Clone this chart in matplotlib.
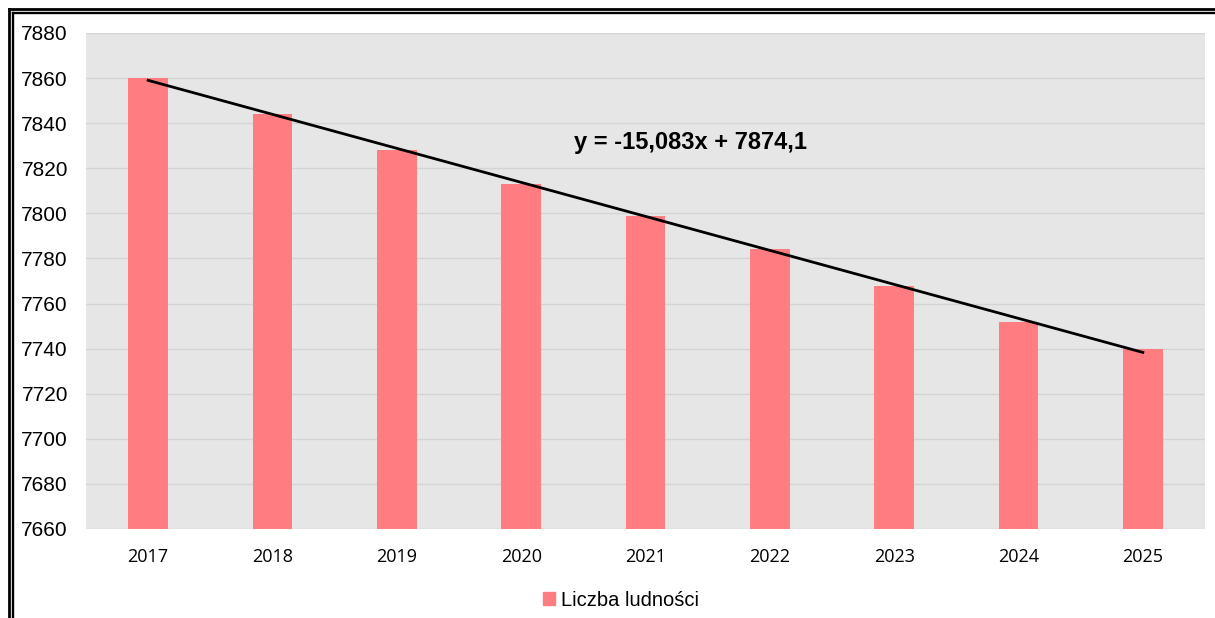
import numpy as np
import matplotlib.pyplot as plt
from matplotlib.lines import Line2D
from matplotlib.patches import Patch

years = ["2017", "2018", "2019", "2020", "2021", "2022", "2023", "2024", "2025"]
population = [7860, 7844, 7828, 7813, 7799, 7784, 7768, 7752, 7740]
series_name = "Liczba ludności"

W, H = 1215, 618
fig = plt.figure(figsize=(W / 100, H / 100), dpi=100)
ax = fig.add_axes([86 / W, 1 - 529 / H, (1205 - 86) / W, (529 - 33) / H])

bar_color = "#ff7c80"
x = np.arange(len(years))
ax.bar(x, population, width=0.32, color=bar_color, zorder=2)

# linear trendline (Excel numbers x from 1)
k = np.arange(1, len(years) + 1)
slope, intercept = np.polyfit(k, population, 1)
ax.plot(x, slope * k + intercept, color="black", lw=2, zorder=3)
eq = f"y = {slope:.3f}x + {intercept:.1f}".replace(".", ",")
ax.text(691 / W, 1 - 143 / H, eq, transform=fig.transFigure, ha="center", va="center",
        fontsize=17, fontweight="bold", family="Liberation Sans", color="black")

ax.set_facecolor("#e6e6e6")
ax.set_xlim(-0.5, len(years) - 0.5)
ax.set_ylim(7660, 7880)
ax.set_yticks(np.arange(7660, 7881, 20))
ax.set_xticks(x)
ax.set_xticklabels(years, family="Open Sans", fontsize=13)
for lbl in ax.get_yticklabels():
    lbl.set_family("Liberation Sans")
    lbl.set_fontsize(15)
ax.tick_params(axis="y", length=0, pad=13, colors="black")
ax.tick_params(axis="x", length=0, pad=14, colors="black")
ax.grid(axis="y", color="#d4d4d4", lw=1, zorder=0)
ax.set_axisbelow(True)
for s in ax.spines.values():
    s.set_visible(False)

fig.legend(handles=[Patch(color=bar_color, label=series_name)], loc="center",
           bbox_to_anchor=(621 / W, 1 - 600 / H), frameon=False,
           handlelength=0.6, handleheight=0.6, handletextpad=0.3,
           prop={"family": "Liberation Sans", "size": 14.5})

# double frame around the picture (cropped at right/bottom)
for off, lw in [(9, 2.0), (13, 1.7)]:
    fig.add_artist(Line2D([off / W, 1], [1 - off / H, 1 - off / H], color="black", lw=lw))
    fig.add_artist(Line2D([off / W, off / W], [0, 1 - off / H], color="black", lw=lw))

fig.savefig("out.png", dpi=100)
